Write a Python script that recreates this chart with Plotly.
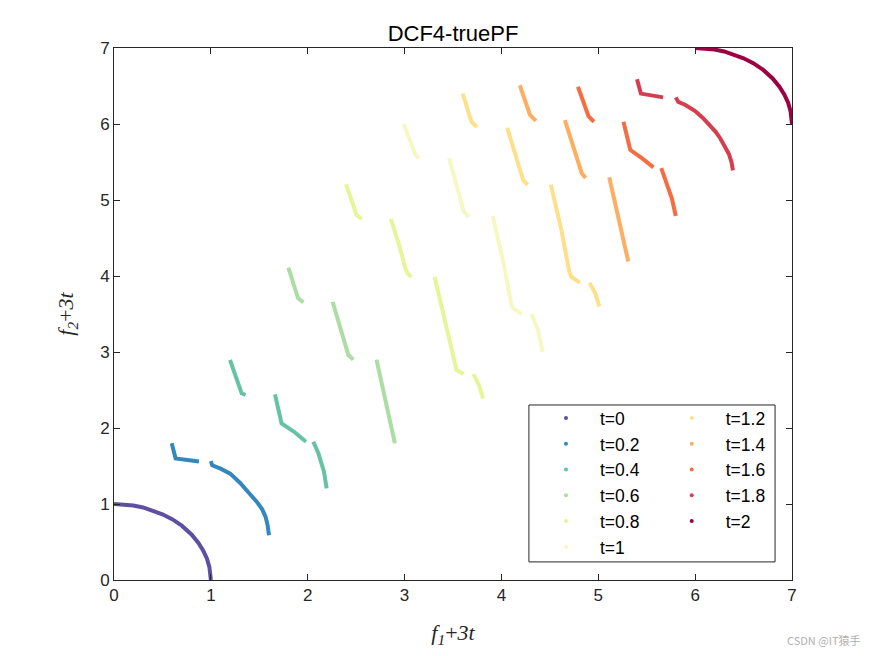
import plotly.graph_objects as go

# Pareto front samples, one list of segments per t.
# Each segment is a list of (f1 + 3t, f2 + 3t) points; gaps split segments.
T_LABELS = ["t=0", "t=0.2", "t=0.4", "t=0.6", "t=0.8", "t=1",
            "t=1.2", "t=1.4", "t=1.6", "t=1.8", "t=2"]

COLORS = ["#5e4fa2", "#3288bd", "#66c2a5", "#abdda4", "#e6f598", "#f6f8c4",
          "#fee08b", "#fdae61", "#f46d43", "#d53e4f", "#9e0142"]

FRONTS = [
    # t=0
    [[(0.0, 1.0), (0.1, 0.995), (0.2, 0.98), (0.3, 0.955), (0.4, 0.915),
      (0.5, 0.865), (0.6, 0.8), (0.7, 0.715), (0.8, 0.6), (0.87, 0.49),
      (0.92, 0.39), (0.96, 0.28), (0.985, 0.17), (0.997, 0.08), (1.0, 0.0)]],
    # t=0.2
    [[(0.596, 1.80), (0.636, 1.60), (0.877, 1.56)],
     [(1.0, 1.565), (1.014, 1.51), (1.1, 1.465), (1.2, 1.40), (1.3, 1.28),
      (1.37, 1.18), (1.43, 1.10), (1.48, 1.02), (1.53, 0.93), (1.565, 0.83),
      (1.585, 0.73), (1.595, 0.65), (1.60, 0.59)]],
    # t=0.4
    [[(1.198, 2.895), (1.26, 2.66), (1.30, 2.50), (1.318, 2.456), (1.358, 2.434)],
     [(1.662, 2.443), (1.73, 2.06), (1.86, 1.95), (1.982, 1.82)],
     [(2.058, 1.82), (2.11, 1.667), (2.168, 1.425), (2.195, 1.206)]],
    # t=0.6
    [[(1.80, 4.11), (1.85, 3.90), (1.88, 3.76), (1.90, 3.71), (1.955, 3.65)],
     [(2.257, 3.66), (2.34, 3.30), (2.40, 3.02), (2.42, 2.96), (2.47, 2.90)],
     [(2.71, 2.90), (2.80, 2.40), (2.90, 1.80)]],
    # t=0.8
    [[(2.395, 5.21), (2.45, 5.00), (2.49, 4.84), (2.505, 4.80), (2.557, 4.75)],
     [(2.859, 4.75), (2.95, 4.38), (3.01, 4.09), (3.03, 4.035), (3.07, 3.99)],
     [(3.31, 3.99), (3.43, 3.35), (3.52, 2.82), (3.537, 2.76), (3.61, 2.71)],
     [(3.71, 2.71), (3.77, 2.56), (3.81, 2.39)]],
    # t=1
    [[(2.99, 6.0), (3.07, 5.72), (3.11, 5.60), (3.15, 5.55)],
     [(3.46, 5.55), (3.54, 5.18), (3.59, 4.92), (3.61, 4.85), (3.665, 4.78)],
     [(3.91, 4.79), (4.02, 4.18), (4.10, 3.64), (4.12, 3.575), (4.21, 3.50)],
     [(4.31, 3.50), (4.38, 3.28), (4.425, 3.00)]],
    # t=1.2
    [[(3.60, 6.40), (3.65, 6.20), (3.68, 6.07), (3.69, 6.03), (3.745, 5.96)],
     [(4.06, 5.95), (4.15, 5.58), (4.21, 5.32), (4.225, 5.26), (4.27, 5.20)],
     [(4.51, 5.20), (4.62, 4.60), (4.70, 4.06), (4.72, 3.99), (4.81, 3.91)],
     [(4.91, 3.91), (4.97, 3.77), (5.01, 3.60)]],
    # t=1.4
    [[(4.19, 6.51), (4.245, 6.30), (4.28, 6.16), (4.295, 6.12), (4.356, 6.04)],
     [(4.655, 6.05), (4.75, 5.68), (4.81, 5.41), (4.83, 5.35), (4.87, 5.29)],
     [(5.113, 5.30), (5.21, 4.75), (5.31, 4.19)]],
    # t=1.6
    [[(4.79, 6.49), (4.85, 6.28), (4.88, 6.15), (4.90, 6.10), (4.955, 6.03)],
     [(5.26, 6.03), (5.33, 5.66), (5.45, 5.55), (5.57, 5.43)],
     [(5.65, 5.42), (5.71, 5.22), (5.76, 5.02), (5.80, 4.79)]],
    # t=1.8
    [[(5.40, 6.59), (5.44, 6.40), (5.67, 6.35)],
     [(5.80, 6.35), (5.826, 6.29), (5.9, 6.25), (6.0, 6.17), (6.08, 6.08),
      (6.15, 5.99), (6.21, 5.90), (6.26, 5.81), (6.31, 5.70), (6.35, 5.60),
      (6.375, 5.50), (6.39, 5.39)]],
    # t=2
    [[(6.0, 7.0), (6.1, 6.995), (6.2, 6.98), (6.3, 6.955), (6.4, 6.915),
      (6.5, 6.865), (6.6, 6.8), (6.7, 6.715), (6.8, 6.6), (6.87, 6.49),
      (6.92, 6.39), (6.96, 6.28), (6.985, 6.17), (6.997, 6.08), (7.0, 6.0)]],
]

TICKS = [0, 1, 2, 3, 4, 5, 6, 7]

INK = "#262626"
SANS = "Liberation Sans, Arial, sans-serif"
SERIF = "Liberation Serif, Times New Roman, serif"


def flatten(segments):
    xs, ys = [], []
    for seg in segments:
        if xs:
            xs.append(None)
            ys.append(None)
        xs += [p[0] for p in seg]
        ys += [p[1] for p in seg]
    return xs, ys


fig = go.Figure()

for label, color, segments in zip(T_LABELS, COLORS, FRONTS):
    xs, ys = flatten(segments)
    fig.add_trace(go.Scatter(
        x=xs, y=ys, mode="lines", line={"color": color, "width": 4},
        legendgroup=label, showlegend=False, hoverinfo="skip",
    ))

# legend entries: MATLAB shows dots, split into two columns
for i, (label, color) in enumerate(zip(T_LABELS, COLORS)):
    fig.add_trace(go.Scatter(
        x=[None], y=[None], mode="markers", name=label,
        marker={"color": color, "size": 4},
        legendgroup=label, legend="legend" if i < 6 else "legend2",
    ))

legend_style = {
    "bgcolor": "rgba(0,0,0,0)",
    "borderwidth": 0,
    "font": {"family": SANS, "size": 17.5, "color": "#000000"},
    "itemwidth": 58,
    "tracegroupgap": 0,
    "traceorder": "grouped",
    "yanchor": "top",
    "xanchor": "left",
    "y": 0.338,
}

axis = {
    "range": [0, 7],
    "tickvals": TICKS,
    "ticks": "inside",
    "ticklen": 6,
    "tickcolor": INK,
    "showline": True,
    "linecolor": INK,
    "linewidth": 1,
    "mirror": "ticks",
    "showgrid": False,
    "zeroline": False,
    "tickfont": {"family": SANS, "size": 17, "color": INK},
}

# the page body adds an 8px margin, so the figure is 8px smaller on each side
fig.update_layout(
    width=867,
    height=648,
    paper_bgcolor="#ffffff",
    plot_bgcolor="#ffffff",
    margin={"l": 106, "r": 83, "t": 40, "b": 76},
    title={
        "text": "DCF4-truePF",
        "x": 0.5133, "xanchor": "center",
        "y": 0.9614, "yanchor": "middle",
        "font": {"family": SANS, "size": 22, "color": "#000000"},
    },
    xaxis={**axis, "title": {
        "text": "<i>f</i><sub><i>1</i></sub>+<i>3t</i>",
        "font": {"family": SERIF, "size": 22, "color": INK}, "standoff": 20}},
    yaxis={**axis, "title": {
        "text": "<i>f</i><sub><i>2</i></sub>+<i>3t</i>",
        "font": {"family": SERIF, "size": 22, "color": INK}, "standoff": 20}},
    legend={**legend_style, "x": 0.6165},
    legend2={**legend_style, "x": 0.802},
    shapes=[{
        "type": "rect", "xref": "paper", "yref": "paper",
        "x0": 0.612, "x1": 0.975, "y0": 0.034, "y1": 0.329,
        "line": {"color": INK, "width": 1}, "fillcolor": "rgba(0,0,0,0)",
    }],
    annotations=[{
        "text": "CSDN @IT猿手", "xref": "paper", "yref": "paper",
        "x": 1.103, "y": -0.112, "xanchor": "right", "yanchor": "middle",
        "showarrow": False,
        "font": {"family": "Noto Sans CJK SC", "size": 11, "color": "#b0b0b0"},
    }],
    showlegend=True,
)

fig.write_html("out.html")
